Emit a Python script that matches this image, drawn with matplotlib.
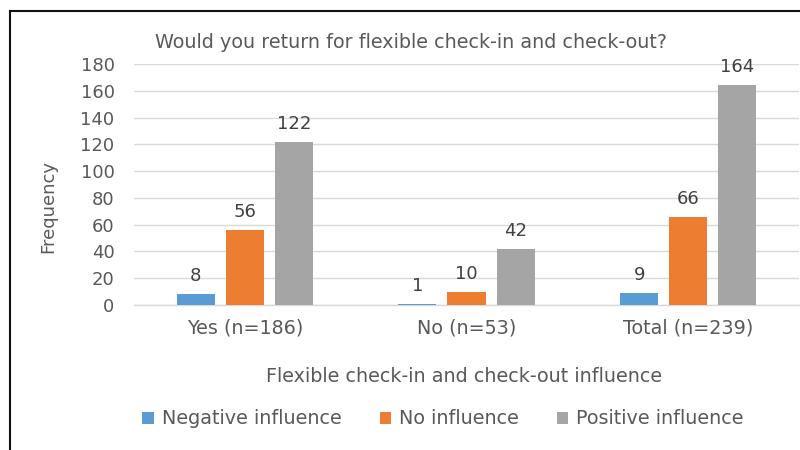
import matplotlib
matplotlib.use("Agg")
import matplotlib.pyplot as plt
from matplotlib.lines import Line2D
from matplotlib.patches import Patch
import numpy as np

categories = ["Yes (n=186)", "No (n=53)", "Total (n=239)"]
series_names = ["Negative influence", "No influence", "Positive influence"]
negative = [8, 1, 9]
no_infl = [56, 10, 66]
positive = [122, 42, 164]
yticks = [0, 20, 40, 60, 80, 100, 120, 140, 160, 180]

colors = ["#5B9BD5", "#ED7D31", "#A5A5A5"]
txt = "#595959"
FS = 13
FT = 13.8

plt.rcParams["font.family"] = ["DejaVu Sans"]

fig = plt.figure(figsize=(8, 4.5), dpi=100)
W, H = 800, 450
ax = fig.add_axes([134 / W, 1 - 305 / H, 665 / W, 241 / H])

x = np.arange(len(categories))
step = 0.2212
width = 0.1716
for i, (vals, c, name) in enumerate(zip([negative, no_infl, positive], colors, series_names)):
    pos = x + (i - 1) * step
    bars = ax.bar(pos, vals, width=width, color=c, label=name, zorder=3)
    for b, v in zip(bars, vals):
        ax.annotate(str(v), (b.get_x() + b.get_width() / 2, v), xytext=(0, 13),
                    textcoords="offset points", ha="center", va="center",
                    fontsize=FS, color="#404040")

ax.set_xlim(-0.5, 2.5)
ax.set_ylim(0, 180)
ax.set_yticks(yticks)
ax.set_yticklabels([str(t) for t in yticks])
ax.set_xticks(x)
ax.set_xticklabels(categories)
ax.tick_params(axis="y", length=0, pad=14, labelsize=FS, labelcolor=txt)
ax.tick_params(axis="x", length=0, pad=10, labelsize=FT, labelcolor=txt)
ax.grid(axis="y", color="#D9D9D9", linewidth=1, zorder=0)
for s in ["top", "right", "left"]:
    ax.spines[s].set_visible(False)
ax.spines["bottom"].set_color("#D9D9D9")
ax.spines["bottom"].set_linewidth(1)
ax.set_facecolor("none")

fig.text(411 / W, 1 - 42 / H, "Would you return for flexible check-in and check-out?",
         ha="center", va="center", fontsize=FT, color=txt)
fig.text(48 / W, 1 - 206 / H, "Frequency", rotation=90, ha="center", va="center",
         fontsize=FS, color=txt)
fig.text(464 / W, 1 - 376 / H, "Flexible check-in and check-out influence",
         ha="center", va="center", fontsize=FT, color=txt)

handles = [Patch(facecolor=c, edgecolor="none") for c in colors]
fig.legend(handles, series_names, loc="center", bbox_to_anchor=(443 / W, 1 - 419 / H),
           ncol=3, frameon=False, fontsize=FT, labelcolor=txt, handlelength=0.6,
           handleheight=0.6, handletextpad=0.4, columnspacing=2.0)

fig.add_artist(Line2D([9.5 / W, 9.5 / W], [0, 1 - 11 / H], color="#111111", linewidth=1.5,
                      transform=fig.transFigure))
fig.add_artist(Line2D([9.5 / W, 1], [1 - 11 / H, 1 - 11 / H], color="#111111", linewidth=1.5,
                      transform=fig.transFigure))

fig.savefig("out.png", dpi=100)
